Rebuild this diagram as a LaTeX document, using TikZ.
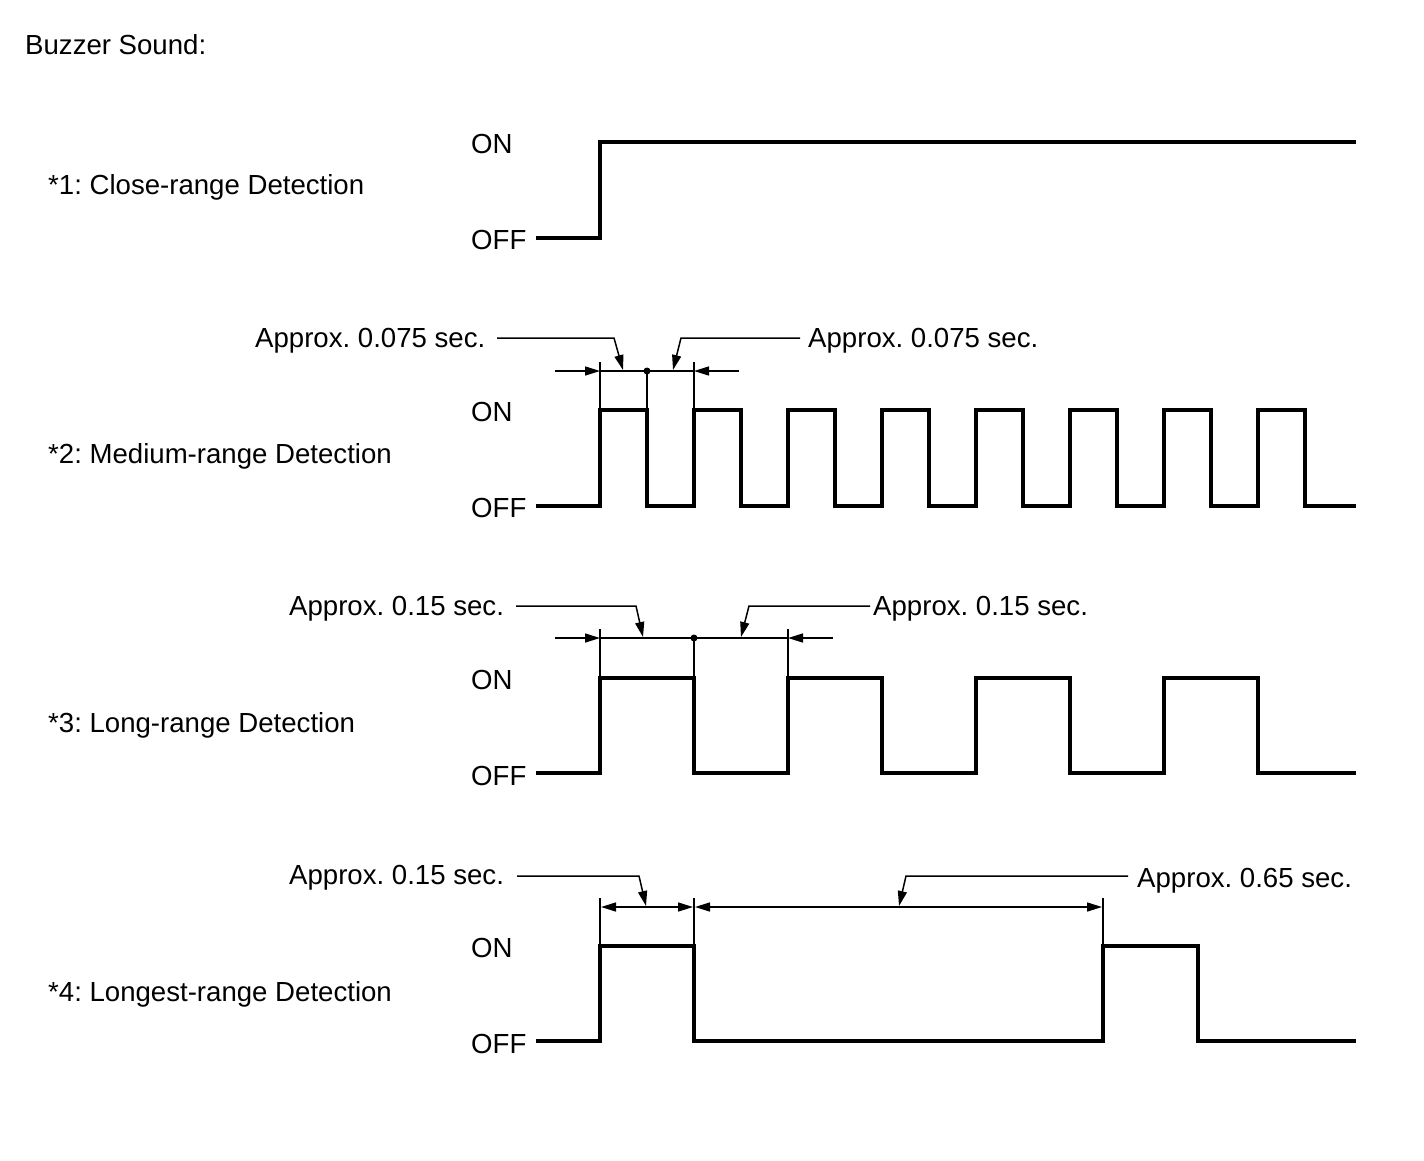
\documentclass[tikz,border=0pt]{standalone}
\usepackage{fontspec}
\setmainfont{Liberation Sans}
\usetikzlibrary{arrows.meta}
\frenchspacing
\begin{document}
\begin{tikzpicture}[x=1pt,y=-1pt,
  lbl/.style={inner sep=0pt,anchor=base west,font=\fontsize{27.6}{32}\selectfont\frenchspacing},
  wave/.style={line width=4pt,line join=miter,line cap=butt},
  thin/.style={line width=1.5pt},
  tipr/.style={thin,-{Triangle[length=15pt,width=9pt]}},
  tipb/.style={thin,{Triangle[length=15pt,width=9pt]}-{Triangle[length=15pt,width=9pt]}},
  dotc/.style={circle,fill=black,inner sep=0pt,minimum size=7pt}]
\useasboundingbox (0,0) rectangle (1424,1160);

% title
\node[lbl] (title) at (25,54) {Buzzer Sound:};

% ---------- row 1 ----------
\node[lbl] (r1) at (48,194) {*1: Close-range Detection};
\node[lbl] (on1) at (471,153) {ON};
\node[lbl] (off1) at (471,249) {OFF};
\draw[wave] (536,238) -- (600,238) -- (600,142) -- (1356,142);

% ---------- row 2 ----------
\node[lbl] (r2) at (48,463) {*2: Medium-range Detection};
\node[lbl] (on2) at (471,421) {ON};
\node[lbl] (off2) at (471,517) {OFF};
\draw[wave] (536,506) -- (600,506)
  -- (600,410) -- (647,410) -- (647,506) -- (694,506)
  -- (694,410) -- (741,410) -- (741,506) -- (788,506)
  -- (788,410) -- (835,410) -- (835,506) -- (882,506)
  -- (882,410) -- (929,410) -- (929,506) -- (976,506)
  -- (976,410) -- (1023,410) -- (1023,506) -- (1070,506)
  -- (1070,410) -- (1117,410) -- (1117,506) -- (1164,506)
  -- (1164,410) -- (1211,410) -- (1211,506) -- (1258,506)
  -- (1258,410) -- (1305,410) -- (1305,506) -- (1356,506);
% extension lines
\draw[thin] (600,362) -- (600,410);
\draw[thin] (647,371) -- (647,410);
\draw[thin] (694,362) -- (694,410);
% dimension line
\coordinate (d2a) at (555,371);
\coordinate (d2b) at (600,371);
\coordinate (d2c) at (694,371);
\coordinate (d2d) at (739,371);
\draw[tipr] (d2a) -- (d2b);
\draw[thin] (d2b) -- (d2c);
\draw[tipr] (d2d) -- (d2c);
\node[dotc] (dot2) at (647,371) {};
% labels + leaders
\node[lbl] (a2l) at (255,347) {Approx. 0.075 sec.};
\node[lbl] (a2r) at (808,347) {Approx. 0.075 sec.};
\draw[tipr] (497,338) -- (614,338) -- (623,370);
\draw[tipr] (800,338) -- (681,338) -- (673,370);

% ---------- row 3 ----------
\node[lbl] (r3) at (48,732) {*3: Long-range Detection};
\node[lbl] (on3) at (471,689) {ON};
\node[lbl] (off3) at (471,785) {OFF};
\draw[wave] (536,773) -- (600,773)
  -- (600,678) -- (694,678) -- (694,773) -- (788,773)
  -- (788,678) -- (882,678) -- (882,773) -- (976,773)
  -- (976,678) -- (1070,678) -- (1070,773) -- (1164,773)
  -- (1164,678) -- (1258,678) -- (1258,773) -- (1356,773);
\draw[thin] (600,629) -- (600,678);
\draw[thin] (694,638) -- (694,678);
\draw[thin] (788,629) -- (788,678);
\coordinate (d3a) at (555,638);
\coordinate (d3b) at (600,638);
\coordinate (d3c) at (788,638);
\coordinate (d3d) at (833,638);
\draw[tipr] (d3a) -- (d3b);
\draw[thin] (d3b) -- (d3c);
\draw[tipr] (d3d) -- (d3c);
\node[dotc] (dot3) at (694,638) {};
\node[lbl] (a3l) at (289,615) {Approx. 0.15 sec.};
\node[lbl] (a3r) at (873,615) {Approx. 0.15 sec.};
\draw[tipr] (516,606) -- (636,606) -- (643,637);
\draw[tipr] (870,606) -- (749,606) -- (741,637);

% ---------- row 4 ----------
\node[lbl] (r4) at (48,1001) {*4: Longest-range Detection};
\node[lbl] (on4) at (471,957) {ON};
\node[lbl] (off4) at (471,1053) {OFF};
\draw[wave] (536,1041) -- (600,1041)
  -- (600,946) -- (694,946) -- (694,1041) -- (1103,1041)
  -- (1103,946) -- (1198,946) -- (1198,1041) -- (1356,1041);
\draw[thin] (600,898) -- (600,946);
\draw[thin] (694,898) -- (694,946);
\draw[thin] (1103,898) -- (1103,946);
\coordinate (d4a) at (601,907);
\coordinate (d4b) at (693,907);
\coordinate (d4c) at (695,907);
\coordinate (d4d) at (1102,907);
\draw[tipb] (d4a) -- (d4b);
\draw[tipb] (d4c) -- (d4d);
\node[lbl] (a4l) at (289,884) {Approx. 0.15 sec.};
\node[lbl] (a4r) at (1137,887) {Approx. 0.65 sec.};
\draw[tipr] (517,876) -- (639,876) -- (646,906);
\draw[tipr] (1128,876) -- (906,876) -- (899,906);
\end{tikzpicture}
\end{document}
